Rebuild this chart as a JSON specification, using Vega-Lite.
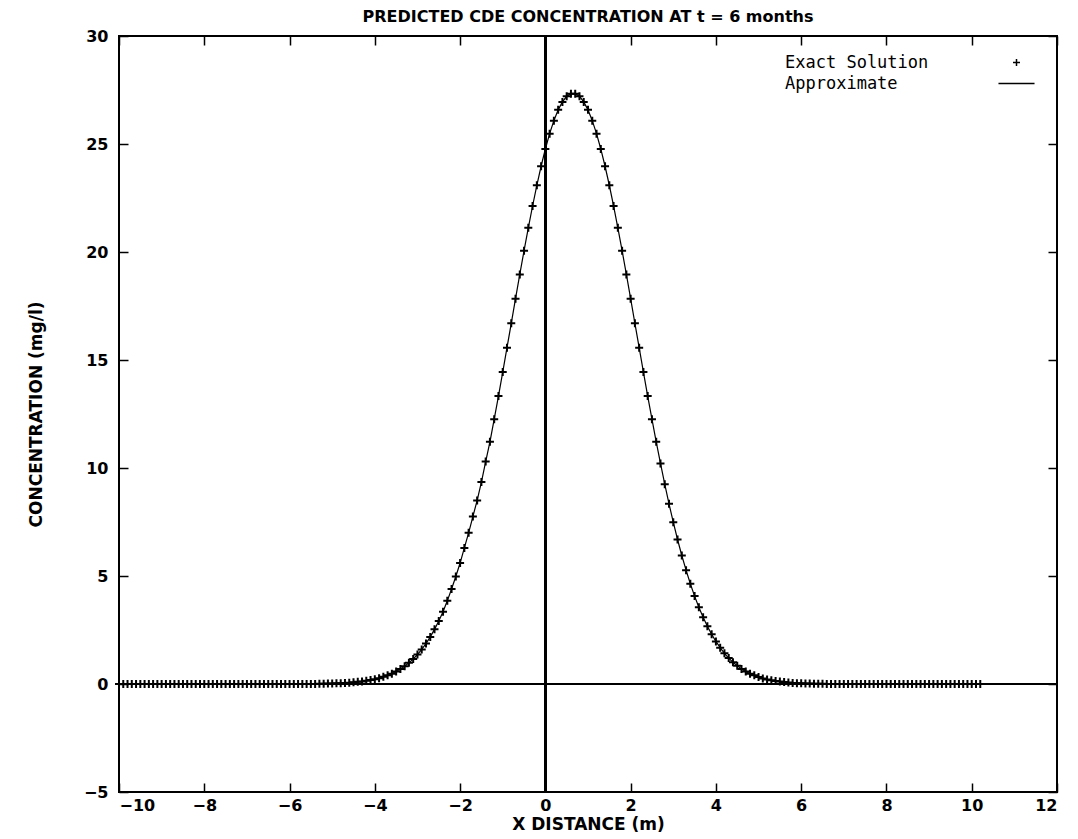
{
"$schema": "https://vega.github.io/schema/vega-lite/v6.json",
"width": 938, "height": 756,
"autosize": {"type": "none"},
"padding": {"left": 119, "top": 36, "right": 21, "bottom": 47},
"background": "white",
"title": {"text": "PREDICTED CDE CONCENTRATION AT t = 6 months", "font": "DejaVu Sans", "fontSize": 16, "fontWeight": "bold", "color": "black", "offset": 3, "anchor": "middle"},
"config": {
"view": {"stroke": "black", "strokeWidth": 2},
"axis": {"grid": false, "domain": false, "ticks": true, "tickColor": "black", "tickWidth": 1.5, "tickSize": -9, "labelFont": "DejaVu Sans", "labelFontWeight": "bold", "labelFontSize": 16, "labelColor": "black", "titleFont": "DejaVu Sans", "titleFontWeight": "bold", "titleFontSize": 17, "titleColor": "black"}
},
"data": {"values": [
{"x":-10.0,"c":0},{"x":-9.9,"c":0},{"x":-9.8,"c":0},{"x":-9.7,"c":0},{"x":-9.6,"c":0},{"x":-9.5,"c":0},{"x":-9.4,"c":0},{"x":-9.3,"c":0},{"x":-9.2,"c":0},{"x":-9.1,"c":0},
{"x":-9.0,"c":0},{"x":-8.9,"c":0},{"x":-8.8,"c":0},{"x":-8.7,"c":0},{"x":-8.6,"c":0},{"x":-8.5,"c":0},{"x":-8.4,"c":0},{"x":-8.3,"c":0},{"x":-8.2,"c":0},{"x":-8.1,"c":0},
{"x":-8.0,"c":0},{"x":-7.9,"c":0},{"x":-7.8,"c":0},{"x":-7.7,"c":0},{"x":-7.6,"c":0},{"x":-7.5,"c":0},{"x":-7.4,"c":0},{"x":-7.3,"c":0},{"x":-7.2,"c":0},{"x":-7.1,"c":0},
{"x":-7.0,"c":0},{"x":-6.9,"c":0},{"x":-6.8,"c":0},{"x":-6.7,"c":0},{"x":-6.6,"c":0},{"x":-6.5,"c":0},{"x":-6.4,"c":0},{"x":-6.3,"c":0},{"x":-6.2,"c":0},{"x":-6.1,"c":0},
{"x":-6.0,"c":0},{"x":-5.9,"c":0},{"x":-5.8,"c":0},{"x":-5.7,"c":0},{"x":-5.6,"c":0},{"x":-5.5,"c":0},{"x":-5.4,"c":0},{"x":-5.3,"c":0.01},{"x":-5.2,"c":0.01},{"x":-5.1,"c":0.02},
{"x":-5.0,"c":0.02},{"x":-4.9,"c":0.03},{"x":-4.8,"c":0.04},{"x":-4.7,"c":0.05},{"x":-4.6,"c":0.06},{"x":-4.5,"c":0.08},{"x":-4.4,"c":0.10},{"x":-4.3,"c":0.12},{"x":-4.2,"c":0.15},{"x":-4.1,"c":0.18},
{"x":-4.0,"c":0.22},{"x":-3.9,"c":0.27},{"x":-3.8,"c":0.33},{"x":-3.7,"c":0.40},{"x":-3.6,"c":0.48},{"x":-3.5,"c":0.58},{"x":-3.4,"c":0.69},{"x":-3.3,"c":0.82},{"x":-3.2,"c":0.98},{"x":-3.1,"c":1.16},
{"x":-3.0,"c":1.36},{"x":-2.9,"c":1.60},{"x":-2.8,"c":1.87},{"x":-2.7,"c":2.18},{"x":-2.6,"c":2.53},{"x":-2.5,"c":2.92},{"x":-2.4,"c":3.35},{"x":-2.3,"c":3.85},{"x":-2.2,"c":4.40},{"x":-2.1,"c":4.98},
{"x":-2.0,"c":5.60},{"x":-1.9,"c":6.30},{"x":-1.8,"c":7.00},{"x":-1.7,"c":7.75},{"x":-1.6,"c":8.50},{"x":-1.5,"c":9.35},{"x":-1.4,"c":10.30},{"x":-1.3,"c":11.21},{"x":-1.2,"c":12.26},{"x":-1.1,"c":13.33},
{"x":-1.0,"c":14.44},{"x":-0.9,"c":15.57},{"x":-0.8,"c":16.70},{"x":-0.7,"c":17.84},{"x":-0.6,"c":18.96},{"x":-0.5,"c":20.06},{"x":-0.4,"c":21.12},{"x":-0.3,"c":22.13},{"x":-0.2,"c":23.09},{"x":-0.1,"c":23.97},
{"x":0.0,"c":24.77},{"x":0.1,"c":25.48},{"x":0.2,"c":26.08},{"x":0.3,"c":26.58},{"x":0.4,"c":26.95},{"x":0.5,"c":27.21},{"x":0.6,"c":27.33},{"x":0.7,"c":27.33},{"x":0.8,"c":27.21},{"x":0.9,"c":26.95},
{"x":1.0,"c":26.58},{"x":1.1,"c":26.08},{"x":1.2,"c":25.48},{"x":1.3,"c":24.77},{"x":1.4,"c":23.97},{"x":1.5,"c":23.09},{"x":1.6,"c":22.13},{"x":1.7,"c":21.12},{"x":1.8,"c":20.06},{"x":1.9,"c":18.96},
{"x":2.0,"c":17.84},{"x":2.1,"c":16.70},{"x":2.2,"c":15.57},{"x":2.3,"c":14.44},{"x":2.4,"c":13.33},{"x":2.5,"c":12.26},{"x":2.6,"c":11.21},{"x":2.7,"c":10.21},{"x":2.8,"c":9.25},{"x":2.9,"c":8.34},
{"x":3.0,"c":7.49},{"x":3.1,"c":6.69},{"x":3.2,"c":5.95},{"x":3.3,"c":5.27},{"x":3.4,"c":4.64},{"x":3.5,"c":4.07},{"x":3.6,"c":3.55},{"x":3.7,"c":3.09},{"x":3.8,"c":2.67},{"x":3.9,"c":2.30},
{"x":4.0,"c":1.97},{"x":4.1,"c":1.68},{"x":4.2,"c":1.42},{"x":4.3,"c":1.20},{"x":4.4,"c":1.01},{"x":4.5,"c":0.85},{"x":4.6,"c":0.70},{"x":4.7,"c":0.58},{"x":4.8,"c":0.48},{"x":4.9,"c":0.40},
{"x":5.0,"c":0.32},{"x":5.1,"c":0.26},{"x":5.2,"c":0.21},{"x":5.3,"c":0.17},{"x":5.4,"c":0.14},{"x":5.5,"c":0.11},{"x":5.6,"c":0.09},{"x":5.7,"c":0.07},{"x":5.8,"c":0.05},{"x":5.9,"c":0.04},
{"x":6.0,"c":0.03},{"x":6.1,"c":0.02},{"x":6.2,"c":0.02},{"x":6.3,"c":0.01},{"x":6.4,"c":0.01},{"x":6.5,"c":0.01},{"x":6.6,"c":0},{"x":6.7,"c":0},{"x":6.8,"c":0},{"x":6.9,"c":0},
{"x":7.0,"c":0},{"x":7.1,"c":0},{"x":7.2,"c":0},{"x":7.3,"c":0},{"x":7.4,"c":0},{"x":7.5,"c":0},{"x":7.6,"c":0},{"x":7.7,"c":0},{"x":7.8,"c":0},{"x":7.9,"c":0},
{"x":8.0,"c":0},{"x":8.1,"c":0},{"x":8.2,"c":0},{"x":8.3,"c":0},{"x":8.4,"c":0},{"x":8.5,"c":0},{"x":8.6,"c":0},{"x":8.7,"c":0},{"x":8.8,"c":0},{"x":8.9,"c":0},
{"x":9.0,"c":0},{"x":9.1,"c":0},{"x":9.2,"c":0},{"x":9.3,"c":0},{"x":9.4,"c":0},{"x":9.5,"c":0},{"x":9.6,"c":0},{"x":9.7,"c":0},{"x":9.8,"c":0},{"x":9.9,"c":0},
{"x":10.0,"c":0},{"x":10.1,"c":0},{"x":10.2,"c":0}
]},
"layer": [
{"mark": {"type": "rule", "color": "black", "strokeWidth": 1.5}, "encoding": {"y": {"datum": 0, "type": "quantitative", "axis": null}}},
{"mark": {"type": "rule", "color": "black", "strokeWidth": 1.5}, "encoding": {"x": {"datum": 0, "type": "quantitative", "axis": null}}},
{"mark": {"type": "line", "strokeWidth": 1.2},
 "encoding": {
  "x": {"field": "x", "type": "quantitative", "scale": {"domain": [-10, 12], "nice": false, "zero": false}, "axis": {"orient": "bottom", "values": [-10,-8,-6,-4,-2,0,2,4,6,8,10,12], "title": "X DISTANCE (m)", "labelPadding": 14, "titlePadding": 3}},
  "y": {"field": "c", "type": "quantitative", "scale": {"domain": [-5, 30], "nice": false, "zero": false}, "axis": {"orient": "left", "values": [-5,0,5,10,15,20,25,30], "title": "CONCENTRATION (mg/l)", "labelPadding": 20, "titlePadding": 38}},
  "color": {"datum": "Approximate", "type": "nominal", "scale": {"domain": ["Exact Solution", "Approximate"], "range": ["black", "black"]},
   "legend": {"orient": "none", "legendX": 889, "legendY": 18, "title": null, "padding": 0, "labelFont": "DejaVu Sans Mono", "labelFontSize": 17, "labelLimit": 400, "labelColor": "black", "labelAlign": "left", "labelOffset": -240, "rowPadding": 3,
    "encode": {"symbols": {"update": {"shape": {"signal": "datum.value === 'Approximate' ? 'stroke' : 'M-1,0H1M0,-1V1'"}, "size": {"signal": "datum.value === 'Approximate' ? 1300 : 49"}, "stroke": {"value": "black"}, "fill": {"value": "transparent"}, "strokeWidth": {"value": 1.5}}}}}}
 }},
{"mark": {"type": "point", "shape": "M-1,0H1M0,-1V1", "size": 64, "filled": false, "strokeWidth": 2, "opacity": 1},
 "encoding": {
  "x": {"field": "x", "type": "quantitative", "axis": {"orient": "top", "values": [-10,-8,-6,-4,-2,0,2,4,6,8,10,12], "labels": false, "title": null}},
  "y": {"field": "c", "type": "quantitative", "axis": {"orient": "right", "values": [-5,0,5,10,15,20,25,30], "labels": false, "title": null}},
  "color": {"datum": "Exact Solution", "type": "nominal"}
 }}
],
"resolve": {"axis": {"x": "independent", "y": "independent"}}
}
